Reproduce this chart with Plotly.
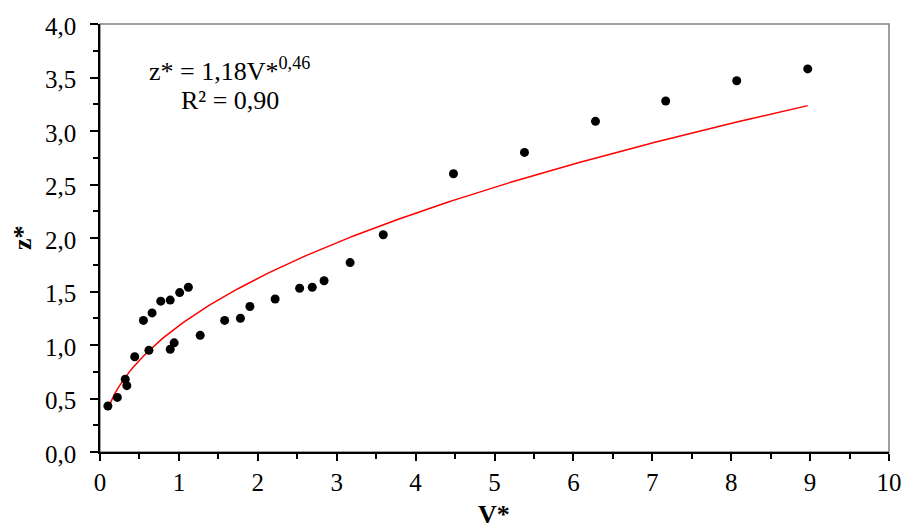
import numpy as np
import plotly.graph_objects as go

# Measured dimensionless flow V* and depth z*
v_star = [0.10, 0.22, 0.32, 0.34, 0.44, 0.55, 0.62, 0.66, 0.77, 0.89,
          0.89, 0.94, 1.01, 1.12, 1.27, 1.58, 1.78, 1.90, 2.22, 2.53,
          2.69, 2.84, 3.17, 3.59, 4.48, 5.38, 6.28, 7.17, 8.07, 8.97]
z_star = [0.43, 0.51, 0.68, 0.62, 0.89, 1.23, 0.95, 1.30, 1.41, 1.42,
          0.96, 1.02, 1.49, 1.54, 1.09, 1.23, 1.25, 1.36, 1.43, 1.53,
          1.54, 1.60, 1.77, 2.03, 2.60, 2.80, 3.09, 3.28, 3.47, 3.58]

# Power-law fit z* = a * V*^b
fit_a = 1.18
fit_b = 0.46
fit_r2 = 0.90

x_ticks = list(range(0, 11))
y_ticks = [0.0, 0.5, 1.0, 1.5, 2.0, 2.5, 3.0, 3.5, 4.0]

v_fit = np.linspace(min(v_star), max(v_star), 200)
z_fit = fit_a * v_fit ** fit_b

FONT = "Liberation Serif"

fig = go.Figure()
fig.add_trace(go.Scatter(
    x=v_fit, y=z_fit, mode="lines",
    line=dict(color="#ff0000", width=1.5),
    hoverinfo="skip", showlegend=False,
))
fig.add_trace(go.Scatter(
    x=v_star, y=z_star, mode="markers",
    marker=dict(color="black", size=9),
    showlegend=False, cliponaxis=False,
))

W, H = 906, 530
ml, mr, mt, mb = 100, 17, 24, 78
pw, ph = W - ml - mr, H - mt - mb


def px_x(p):
    return (p - ml) / pw


def px_y(p):
    return (H - mb - p) / ph


def comma(v, nd):
    return f"{v:.{nd}f}".replace(".", ",")


eq_text = "z* = %sV*<sup>%s</sup>" % (comma(fit_a, 2), comma(fit_b, 2))
r2_text = "R² = %s" % comma(fit_r2, 2)

y_labels = [comma(v, 1) for v in y_ticks]
x_labels = [str(t) for t in x_ticks]

annotations = [
    dict(text=eq_text, xref="paper", yref="paper",
         x=px_x(147), y=px_y(69), xanchor="left", yanchor="middle",
         showarrow=False, font=dict(family=FONT, size=26)),
    dict(text=r2_text, xref="paper", yref="paper",
         x=px_x(179), y=px_y(100), xanchor="left", yanchor="middle",
         showarrow=False, font=dict(family=FONT, size=26)),
    dict(text="<b>z*</b>", xref="paper", yref="paper",
         x=px_x(22), y=px_y(238), xanchor="center", yanchor="middle",
         textangle=-90, showarrow=False, font=dict(family=FONT, size=26)),
    dict(text="<b>V*</b>", xref="paper", yref="paper",
         x=px_x(494), y=px_y(514), xanchor="center", yanchor="middle",
         showarrow=False, font=dict(family=FONT, size=26)),
]

# y tick labels, placed on the y scale at each tick value, set off from the axis
for val, lab in zip(y_ticks, y_labels):
    annotations.append(dict(
        text=lab, xref="paper", yref="y", x=px_x(78), y=val,
        xanchor="right", yanchor="middle", yshift=-2, showarrow=False,
        font=dict(family=FONT, size=25, color="black"),
    ))

fig.update_layout(
    width=W, height=H,
    margin=dict(l=ml, r=mr, t=mt, b=mb, autoexpand=False),
    paper_bgcolor="white", plot_bgcolor="white",
    font=dict(family=FONT, size=24, color="black"),
    shapes=[dict(
        type="rect", xref="paper", yref="paper", x0=0, x1=1, y0=0, y1=1,
        line=dict(color="#808080", width=1.5), layer="below",
    )],
    annotations=annotations,
    xaxis=dict(
        range=[0, 10], tickmode="array", tickvals=x_ticks, ticktext=x_labels,
        tickfont=dict(family=FONT, size=25, color="black"),
        showgrid=False, zeroline=False, automargin=False,
        showline=True, linecolor="black", linewidth=2,
        ticks="outside", ticklen=7, tickwidth=2, tickcolor="black",
        minor=dict(ticks="outside", ticklen=5, tickwidth=2, tickcolor="black",
                   dtick=0.5, tick0=0, showgrid=False),
    ),
    yaxis=dict(
        range=[0, 4], tickmode="array", tickvals=y_ticks,
        showticklabels=False,
        showgrid=False, zeroline=False, automargin=False,
        showline=True, linecolor="black", linewidth=2,
        ticks="outside", ticklen=8, tickwidth=2, tickcolor="black",
        minor=dict(ticks="outside", ticklen=5, tickwidth=2, tickcolor="black",
                   dtick=0.25, tick0=0, showgrid=False),
    ),
)

fig.write_html("out.html")
